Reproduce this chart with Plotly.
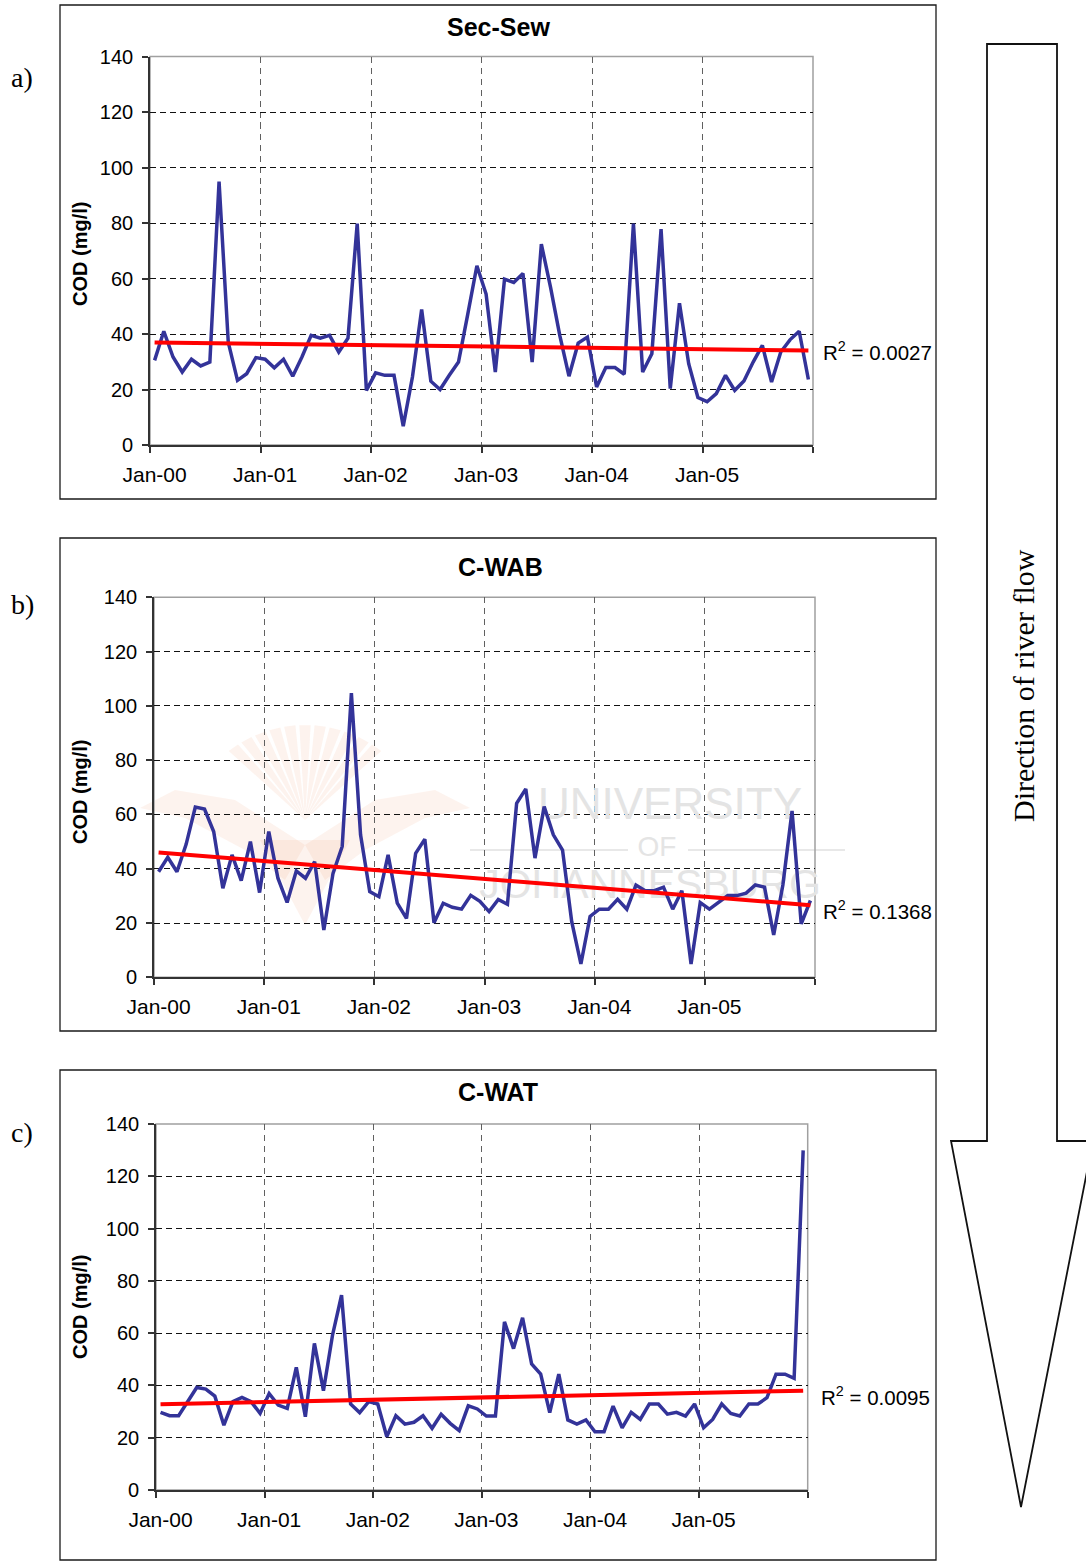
import numpy as np
import plotly.graph_objects as go

# ---------------------------------------------------------------- data
year_labels = ["Jan-00", "Jan-01", "Jan-02", "Jan-03", "Jan-04", "Jan-05"]
months_per_year = 12
cod_ticks = [0, 20, 40, 60, 80, 100, 120, 140]

# Monthly COD (mg/l), Jan 2000 - Dec 2005
sec_sew = [30.5, 41, 31.7, 26.3, 30.9, 28.5, 29.9, 94.9, 37, 23.3, 25.7, 31.5,
           30.9, 27.8, 30.9, 24.8, 31.7, 39.5, 38.5, 39.5, 33.5, 38.5, 79.8, 19.7,
           26, 25.1, 25.1, 6.8, 24.5, 48.8, 23, 20, 25.1, 29.9, 47, 64.6,
           54.4, 26.3, 59.8, 58.6, 61.8, 29.9, 72.4, 56.8, 39.5, 24.8, 36.7, 38.9,
           20.9, 27.9, 27.9, 25.5, 79.8, 26.3, 32.9, 77.8, 20.3, 51.1, 29.3, 17.1,
           15.6, 18.5, 25.1, 19.7, 23.1, 29.9, 35.9, 22.7, 33.5, 37.9, 41, 23.6]

c_wab = [38.9, 44.2, 38.9, 49, 62.7, 62, 53.7, 32.8, 45.1, 35.6, 50, 31.2,
         53.7, 36.5, 27.6, 39.2, 36.5, 42.6, 17.4, 38.3, 48.2, 104.7, 52.5, 31.6,
         29.7, 45.1, 27.3, 21.7, 45.7, 50.9, 20.1, 27.3, 25.8, 25.1, 30.2, 28,
         24.2, 28.7, 26.9, 64.1, 69.4, 43.9, 62.9, 52.5, 46.9, 20.5, 4.9, 22.4,
         25.1, 25.1, 28.7, 25.1, 34, 31.9, 31.9, 33.2, 25.1, 31.9, 4.9, 27.5,
         25.1, 27.5, 30.1, 30.1, 31, 34, 33.2, 15.6, 34, 61.3, 19.7, 28.3]

c_wat = [29.7, 28.4, 28.4, 33.8, 39.2, 38.6, 35.9, 24.8, 33.8, 35.4, 33.8, 29.3,
         36.9, 32.5, 31.2, 46.9, 28, 56.1, 38, 59.2, 74.5, 32.9, 29.6, 33.8,
         32.9, 20.4, 28.4, 25.2, 25.9, 28.4, 23.6, 29, 25.5, 22.7, 32.2, 31,
         28.3, 28.3, 64.3, 54.1, 65.9, 48.2, 44.3, 29.6, 44.3, 26.8, 25.2, 26.8,
         22.3, 22.3, 32.1, 23.8, 29.7, 27, 32.9, 32.9, 29, 29.7, 28.3, 32.9,
         23.8, 27, 32.9, 29.3, 28.3, 32.9, 32.9, 35.3, 44.3, 44.3, 42.7, 129.9]

site_names = ["Sec-Sew", "C-WAB", "C-WAT"]
r2_texts = ["R<sup>2</sup> = 0.0027", "R<sup>2</sup> = 0.1368", "R<sup>2</sup> = 0.0095"]
panel_letters = ["a)", "b)", "c)"]

# ---------------------------------------------------------------- page geometry (pixels)
W, H = 1086, 1561
SANS = "Liberation Sans, Arial, sans-serif"
SERIF = "Liberation Serif, Times New Roman, serif"


def fx(px):
    return px / W


def fy(py):
    return 1 - py / H


def paper_path(pts, close=True):
    s = "M " + " L ".join("%.5f,%.5f" % (fx(a), fy(b)) for a, b in pts)
    return s + (" Z" if close else "")


panels = [
    dict(plot=(150, 813, 56.5, 445), box=(60, 5, 936, 499), title=(498, 27),
         letter_y=77, ylab_y=254, r2=(821, 351)),
    dict(plot=(154, 815, 597.3, 977.3), box=(60, 538, 936, 1031), title=(500, 567),
         letter_y=604, ylab_y=792, r2=(821, 910)),
    dict(plot=(156, 807.7, 1124, 1490), box=(60, 1070, 936, 1560), title=(498, 1092),
         letter_y=1132, ylab_y=1307, r2=(819, 1396)),
]

series = [sec_sew, c_wab, c_wat]
n = len(sec_sew)
x_idx = np.arange(n)
year_starts = [k * months_per_year for k in range(len(year_labels))]
year_bounds = [k * months_per_year - 0.5 for k in range(len(year_labels) + 1)]

fig = go.Figure()
layout = dict(
    width=W, height=H, margin=dict(l=0, r=0, t=0, b=0, pad=0, autoexpand=False),
    paper_bgcolor="white", plot_bgcolor="white", showlegend=False,
    annotations=[], shapes=[],
)

# faint university emblem (fan of rays and two wings) in the C-WAB chart
emblem_fill = "rgba(238,140,90,0.10)"
cx, cy = 305, 850
for ang in np.linspace(55, 125, 11):
    a = np.radians(ang)
    half = np.radians(2.6)
    r = 125
    tip1 = (cx + r * np.cos(a - half), cy - r * np.sin(a - half))
    tip2 = (cx + r * np.cos(a + half), cy - r * np.sin(a + half))
    layout["shapes"].append(dict(
        type="path", xref="paper", yref="paper", layer="below",
        path=paper_path([(cx, cy - 30), tip1, tip2]),
        fillcolor=emblem_fill, line=dict(width=0)))
for side in (-1, 1):
    wing = [(cx, 845), (cx + side * 70, 800), (cx + side * 130, 790),
            (cx + side * 165, 808), (cx + side * 120, 818), (cx + side * 60, 850),
            (cx + side * 20, 880)]
    layout["shapes"].append(dict(
        type="path", xref="paper", yref="paper", layer="below",
        path=paper_path(wing), fillcolor=emblem_fill, line=dict(width=0)))
layout["shapes"].append(dict(
    type="path", xref="paper", yref="paper", layer="below",
    path=paper_path([(cx - 45, 840), (cx + 45, 840), (cx, 925)]),
    fillcolor=emblem_fill, line=dict(width=0)))

for i, (vals, geo) in enumerate(zip(series, panels)):
    k = "" if i == 0 else str(i + 1)
    xa, ya = "x" + k, "y" + k
    x0, x1, ytop, ybot = geo["plot"]

    # faint university wordmark behind the C-WAB series
    if i == 1:
        def dx(px):
            return -0.5 + (px - x0) / (x1 - x0) * n

        def dy(py):
            return (ybot - py) / (ybot - ytop) * 140

        fig.add_trace(go.Scatter(
            x=[dx(670), dx(657), dx(650)], y=[dy(808), dy(849), dy(888)],
            mode="text", text=["UNIVERSITY", "OF", "JOHANNESBURG"],
            textfont=dict(family=SANS, size=[44, 28, 41], color="#e4e4e4"),
            textposition="middle center", hoverinfo="skip",
            xaxis=xa, yaxis=ya, cliponaxis=False))
        for a, b in [(470, 628), (688, 845)]:
            layout["shapes"].append(dict(
                type="line", xref="paper", yref="paper", layer="below",
                x0=fx(a), x1=fx(b), y0=fy(850), y1=fy(850),
                line=dict(color="#e8e8e8", width=2)))

    fig.add_trace(go.Scatter(
        x=x_idx, y=vals, mode="lines",
        line=dict(color="#333399", width=3.5),
        xaxis=xa, yaxis=ya, hoverinfo="skip"))

    slope, icept = np.polyfit(x_idx, np.asarray(vals, dtype=float), 1)
    fig.add_trace(go.Scatter(
        x=[x_idx[0], x_idx[-1]], y=[icept + slope * x_idx[0], icept + slope * x_idx[-1]],
        mode="lines", line=dict(color="#ff0000", width=4),
        xaxis=xa, yaxis=ya, hoverinfo="skip"))

    layout["xaxis" + k] = dict(
        domain=[fx(x0), fx(x1)], range=[-0.5, n - 0.5], anchor=ya,
        automargin=False,
        tickmode="array", tickvals=year_starts, ticktext=year_labels,
        ticks="", showgrid=False, zeroline=False,
        showline=True, linecolor="#333333", linewidth=1.6,
        tickfont=dict(family=SANS, size=21, color="black"),
        ticklabelstandoff=10,
        minor=dict(tickmode="array", tickvals=year_bounds, ticks="outside",
                   ticklen=6, tickwidth=1.5, tickcolor="#333333",
                   showgrid=True, gridcolor="#606060", gridwidth=1.2,
                   griddash="6px,5px"),
        fixedrange=True)
    layout["yaxis" + k] = dict(
        domain=[fy(ybot), fy(ytop)], range=[0, 140], anchor=xa,
        automargin=False,
        tickmode="array", tickvals=cod_ticks,
        ticks="outside", ticklen=6, tickwidth=1.5, tickcolor="#333333",
        showgrid=False, zeroline=False,
        showline=True, linecolor="#333333", linewidth=1.6,
        tickfont=dict(family=SANS, size=20, color="black"),
        ticklabelstandoff=5,
        minor=dict(tickmode="array", tickvals=cod_ticks[1:-1], ticks="",
                   showgrid=True, gridcolor="#111111", gridwidth=1,
                   griddash="6px,4px"),
        fixedrange=True)

    # plot-area frame (top/right in grey)
    layout["shapes"].append(dict(
        type="rect", xref=xa + " domain", yref=ya + " domain",
        x0=0, x1=1, y0=0, y1=1, layer="below",
        line=dict(color="#a0a0a0", width=1.5)))

    # chart box
    bx0, by0, bx1, by1 = geo["box"]
    layout["shapes"].append(dict(
        type="rect", xref="paper", yref="paper",
        x0=fx(bx0), x1=fx(bx1), y0=fy(by1), y1=fy(by0),
        line=dict(color="#1a1a1a", width=1.3)))

    tx, ty = geo["title"]
    layout["annotations"].append(dict(
        text="<b>%s</b>" % site_names[i], x=fx(tx), y=fy(ty),
        xref="paper", yref="paper", showarrow=False,
        xanchor="center", yanchor="middle",
        font=dict(family=SANS, size=25, color="black")))
    layout["annotations"].append(dict(
        text="<b>COD (mg/l)</b>", x=fx(80), y=fy(geo["ylab_y"]),
        xref="paper", yref="paper", showarrow=False, textangle=-90,
        xanchor="center", yanchor="middle",
        font=dict(family=SANS, size=20, color="black")))
    layout["annotations"].append(dict(
        text=panel_letters[i], x=fx(22), y=fy(geo["letter_y"]),
        xref="paper", yref="paper", showarrow=False,
        xanchor="center", yanchor="middle",
        font=dict(family=SERIF, size=28, color="black")))
    rx, ry = geo["r2"]
    layout["annotations"].append(dict(
        text=r2_texts[i], x=fx(rx), y=fy(ry),
        xref="paper", yref="paper", showarrow=False,
        xanchor="left", yanchor="middle",
        font=dict(family=SANS, size=20.5, color="black")))

# ---------------------------------------------------------------- flow-direction arrow
arrow_pts = [(987, 44), (1057, 44), (1057, 1141), (1093, 1141), (1021, 1507),
             (951, 1141), (987, 1141)]
layout["shapes"].append(dict(
    type="path", path=paper_path(arrow_pts), xref="paper", yref="paper",
    line=dict(color="#111111", width=1.8), fillcolor="rgba(0,0,0,0)"))
layout["annotations"].append(dict(
    text="Direction of river flow", x=fx(1024), y=fy(686),
    xref="paper", yref="paper", showarrow=False, textangle=-90,
    xanchor="center", yanchor="middle",
    font=dict(family=SERIF, size=30, color="black")))

fig.update_layout(**layout)
fig.write_html("out.html")
